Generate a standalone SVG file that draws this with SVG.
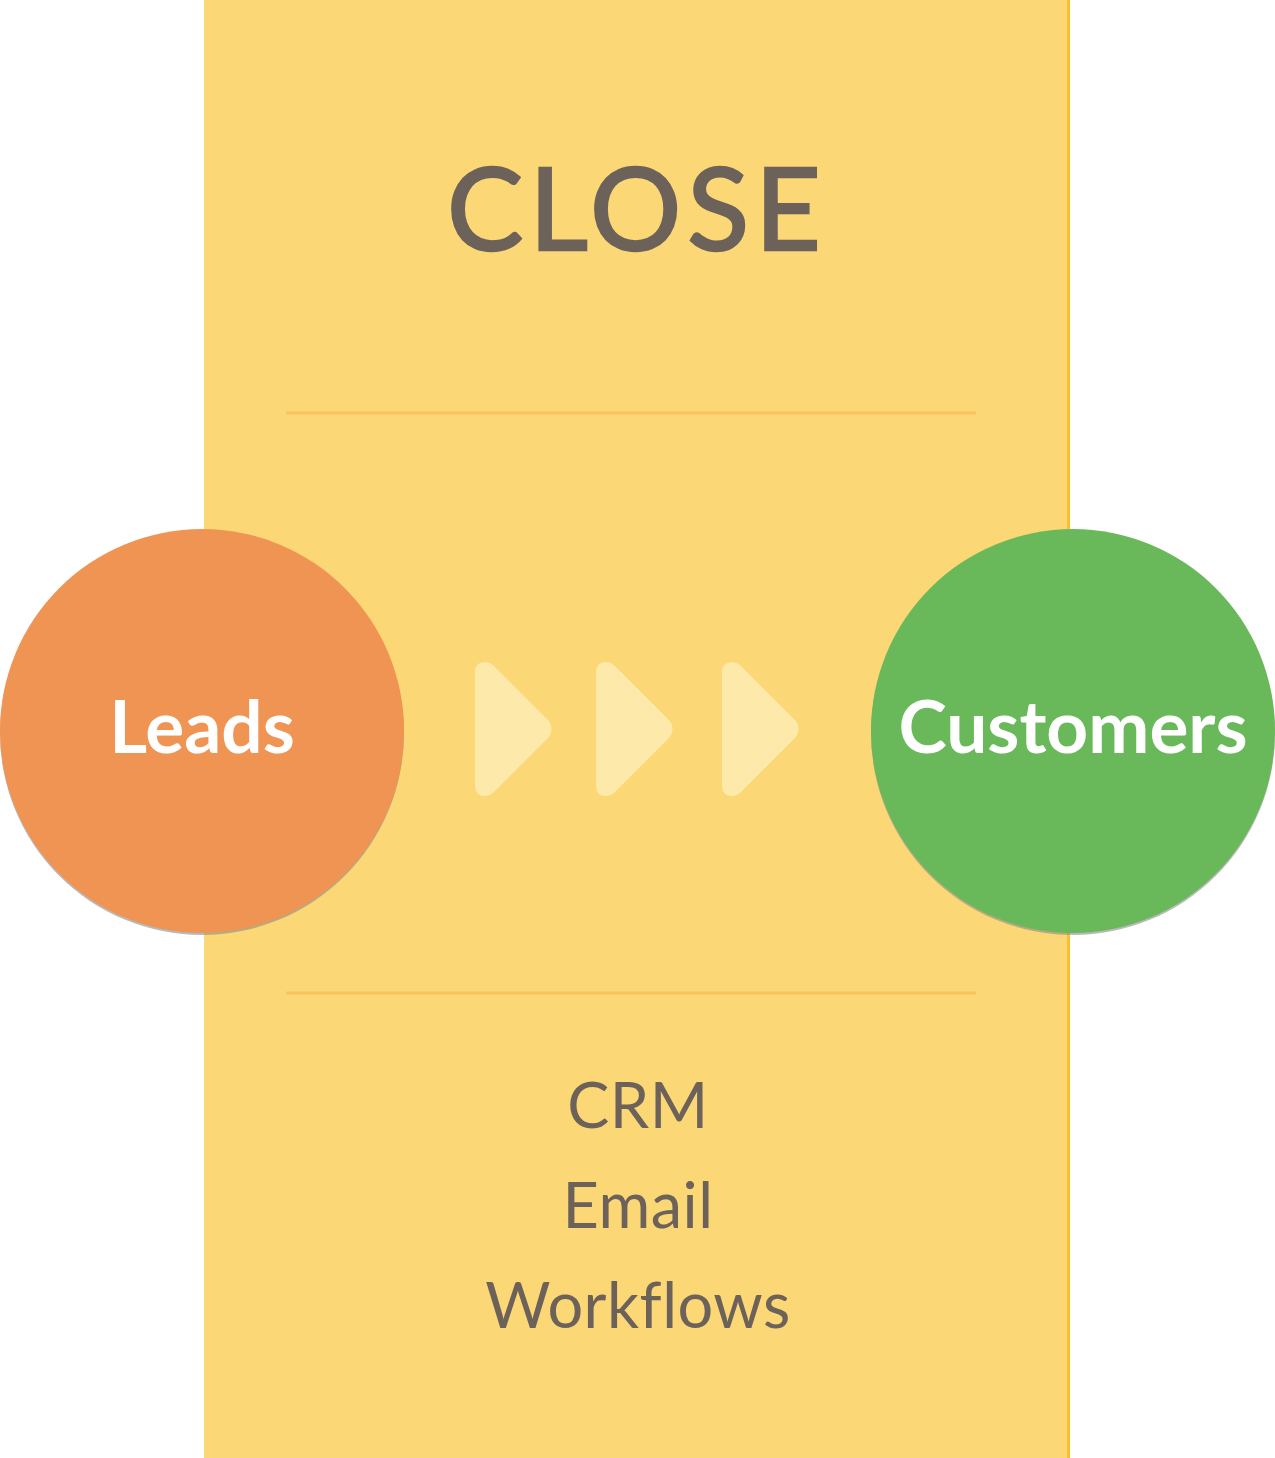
<svg xmlns="http://www.w3.org/2000/svg" xmlns:xlink="http://www.w3.org/1999/xlink" width="1275" height="1458" viewBox="0 0 1275 1458">
<style>
.title{font-family:"Lato","Open Sans","Liberation Sans",sans-serif;font-size:114px;fill:#6D625A;text-anchor:middle;letter-spacing:6px;stroke:#6D625A;stroke-width:2.5px}
.node{font-family:"Lato","Open Sans","Liberation Sans",sans-serif;font-weight:bold;font-size:73px;fill:#FFFFFF;text-anchor:middle}
.item{font-family:"Lato","Open Sans","Liberation Sans",sans-serif;font-size:63px;fill:#6D625A;text-anchor:middle;letter-spacing:0.5px}
.sep{stroke:#F9C55A;stroke-width:3}
.chev{fill:#FDE9AA}
</style>
<defs>
<path id="chev" d="M475,672 Q475,662 485,662 Q490,662 494,666 L549,721 Q554,729 549,737 L494,792 Q490,796 485,796 Q475,796 475,786 Z"/>
</defs>
<g id="panel">
<rect x="204" y="0" width="866" height="1458" fill="#FBD776"/>
<rect x="1067" y="0" width="3" height="1458" fill="#FBC02D"/>
<text class="title" x="637" y="250">CLOSE</text>
<line class="sep" x1="286" y1="413" x2="976" y2="413"/>
<line class="sep" x1="286" y1="993" x2="976" y2="993"/>
<text class="item" x="638" y="1128">CRM</text>
<text class="item" x="638" y="1228">Email</text>
<text class="item" x="638" y="1328">Workflows</text>
</g>
<g id="connectors">
<use xlink:href="#chev" class="chev"/>
<use xlink:href="#chev" class="chev" transform="translate(121,0)"/>
<use xlink:href="#chev" class="chev" transform="translate(247,0)"/>
</g>
<g id="leads">
<circle cx="202" cy="733" r="202" fill="#8a8a8a" opacity="0.6"/>
<circle cx="202" cy="731" r="202" fill="#F09454"/>
<text class="node" x="202" y="753">Leads</text>
</g>
<g id="customers">
<circle cx="1073" cy="733" r="202" fill="#8a8a8a" opacity="0.6"/>
<circle cx="1073" cy="731" r="202" fill="#69B95B"/>
<text class="node" x="1073" y="753">Customers</text>
</g>
</svg>
